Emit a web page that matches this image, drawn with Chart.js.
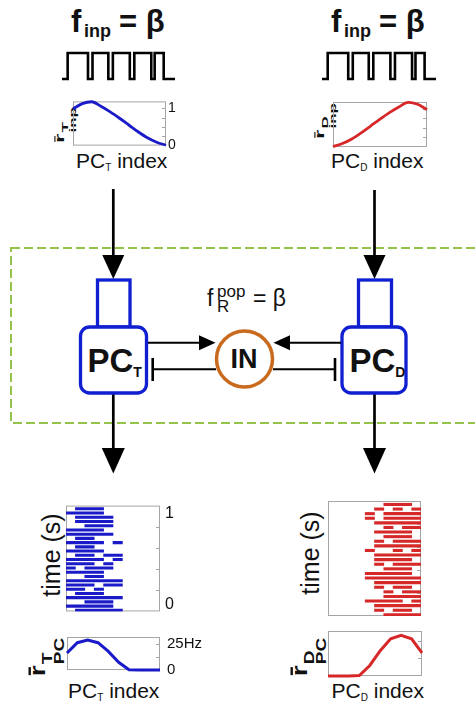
<!DOCTYPE html>
<html>
<head>
<meta charset="utf-8">
<script src="https://cdn.jsdelivr.net/npm/chart.js@4.4.1/dist/chart.umd.min.js"></script>
<style>
    html, body { margin: 0; padding: 0; background: #fff; }
    #stage { position: relative; width: 475px; height: 702px; overflow: hidden; font-family: 'Liberation Sans', Arial, sans-serif; color: #111; }
    #stage svg { position: absolute; left: 0; top: 0; }
    .panel { position: absolute; }
    .t { position: absolute; line-height: 1; white-space: nowrap; }
    .b { font-weight: bold; }
    .sub { font-size: 10px; vertical-align: -3px; }
    .rot { position: absolute; line-height: 1; white-space: nowrap; }
    .bar { position: relative; }
    .bar::after { content: ""; position: absolute; left: 0.04em; right: 0.08em; top: 0.16em; height: 0.09em; background: #111; }
    .stk { display: inline-flex; flex-direction: column; line-height: 0.82; vertical-align: -0.4em; margin-left: 1px; }
</style>
</head>
<body>
<div id="stage">
    <svg width="475" height="702">
        <rect x="11" y="248" width="490" height="175" fill="none" stroke="#94c24a" stroke-width="2" stroke-dasharray="9 4"/>
        <g stroke="#000" stroke-width="2.7">
            <line x1="113.3" y1="189" x2="113.3" y2="258"/>
            <line x1="374.5" y1="190" x2="374.5" y2="258"/>
            <line x1="113.3" y1="393" x2="113.3" y2="450"/>
            <line x1="374.5" y1="393" x2="374.5" y2="450"/>
        </g>
        <g fill="#000">
            <polygon points="102.3,255 124.3,255 113.3,279"/>
            <polygon points="363.5,255 385.5,255 374.5,279"/>
            <polygon points="101.8,448 124.8,448 113.3,473.5"/>
            <polygon points="363,448 386,448 374.5,473.5"/>
        </g>
        <g fill="none" stroke="#1020d0" stroke-width="3.3">
            <rect x="97.5" y="280" width="32.5" height="47"/>
            <rect x="358.5" y="280" width="33" height="47"/>
        </g>
        <g fill="#fff" stroke="#1020d0" stroke-width="3.3">
            <rect x="80.5" y="327" width="66" height="66" rx="9"/>
            <rect x="342" y="327" width="64" height="66" rx="9"/>
        </g>
        <g stroke="#000" stroke-width="2">
            <line x1="148" y1="342.7" x2="202" y2="342.7"/>
            <line x1="341" y1="342.7" x2="288" y2="342.7"/>
            <line x1="216" y1="369.3" x2="152.7" y2="369.3"/>
            <line x1="273" y1="369.3" x2="335" y2="369.3"/>
        </g>
        <g stroke="#000" stroke-width="2.6">
            <line x1="152.7" y1="358" x2="152.7" y2="381"/>
            <line x1="335" y1="358" x2="335" y2="381"/>
        </g>
        <g fill="#000">
            <polygon points="199,335.2 199,350.2 215.5,342.7"/>
            <polygon points="290,335.2 290,350.2 273.5,342.7"/>
        </g>
        <circle cx="244.5" cy="359" r="28" fill="#fff" stroke="#c96b1f" stroke-width="3.5"/>
    </svg>

    <div class="t b" style="left:71px; top:5.8px; font-size:31px">f</div>
    <div class="t b" style="left:84px; top:21.8px; font-size:18px">inp</div>
    <div class="t b" style="left:119px; top:5.8px; font-size:31px">= β</div>
    <div class="t b" style="left:331px; top:5.8px; font-size:31px">f</div>
    <div class="t b" style="left:344px; top:21.8px; font-size:18px">inp</div>
    <div class="t b" style="left:379px; top:5.8px; font-size:31px">= β</div>

    <div class="t" style="left:76px; top:150.2px; font-size:21px">PC<span class="sub">T</span> index</div>
    <div class="t" style="left:331px; top:150.2px; font-size:21px">PC<span class="sub">D</span> index</div>
    <div class="t" style="left:68px; top:680px; font-size:21px">PC<span class="sub">T</span> index</div>
    <div class="t" style="left:331.5px; top:680px; font-size:21px">PC<span class="sub">D</span> index</div>

    <div class="t b" style="left:87.5px; top:344.1px; font-size:33px">PC<span style="font-size:14px; vertical-align:-5px">T</span></div>
    <div class="t b" style="left:349.5px; top:344.1px; font-size:33px">PC<span style="font-size:14px; vertical-align:-5px">D</span></div>
    <div class="t b" style="left:230.5px; top:346.1px; font-size:27px">IN</div>

    <div class="t" style="left:207px; top:286.5px; font-size:23px">f</div>
    <div class="t" style="left:217px; top:283.5px; font-size:17px; line-height:0.9">pop</div>
    <div class="t" style="left:217px; top:298.8px; font-size:17px; line-height:0.9">R</div>
    <div class="t" style="left:253px; top:286.5px; font-size:23px">= β</div>

    <div class="rot" style="left:51px; top:555px; font-size:25px; transform: translate(-50%, -50%) rotate(-90deg)">time (s)</div>
    <div class="rot" style="left:310px; top:553px; font-size:25px; transform: translate(-50%, -50%) rotate(-90deg)">time (s)</div>

    <div class="rot b" style="left:65px; top:125px; font-size:24px; transform: translate(-50%, -50%) rotate(-90deg) scaleY(0.55)"><span class="bar">r</span><span class="stk" style="font-size:17px"><span>T</span><span>inp</span></span></div>
    <div class="rot b" style="left:325px; top:121px; font-size:24px; transform: translate(-50%, -50%) rotate(-90deg) scaleY(0.55)"><span class="bar">r</span><span class="stk" style="font-size:17px"><span>D</span><span>inp</span></span></div>
    <div class="rot b" style="left:46px; top:657px; font-size:28px; transform: translate(-50%, -50%) rotate(-90deg) scaleY(0.8)"><span class="bar">r</span><span class="stk" style="font-size:19px"><span>T</span><span>PC</span></span></div>
    <div class="rot b" style="left:308px; top:657px; font-size:28px; transform: translate(-50%, -50%) rotate(-90deg) scaleY(0.8)"><span class="bar">r</span><span class="stk" style="font-size:19px"><span>D</span><span>PC</span></span></div>

    <canvas id="waveT" class="panel"></canvas>
    <canvas id="waveD" class="panel"></canvas>
    <canvas id="inpT" class="panel"></canvas>
    <canvas id="inpD" class="panel"></canvas>
    <canvas id="rasT" class="panel"></canvas>
    <canvas id="rasD" class="panel"></canvas>
    <canvas id="outT" class="panel"></canvas>
    <canvas id="outD" class="panel"></canvas>
</div>

<script>
// ── data ──

// stimulus square wave (fraction of the window, on/off level)
const WAVE_TIME = [0, 0.05, 0.23, 0.27, 0.41, 0.45, 0.60, 0.64, 0.79, 0.82, 0.90, 1];
const WAVE_LEVEL = [0, 1, 0, 1, 0, 1, 0, 1, 0, 1, 0, 0];

// normalised input rate along the PC population
const INP_POS = [0, 0.1, 0.2, 0.3, 0.4, 0.5, 0.6, 0.7, 0.8, 0.9, 1];
const INP_RATE_T = [0.98, 1.12, 1.17, 1.05, 0.90, 0.73, 0.55, 0.37, 0.21, 0.09, 0.01];
const INP_RATE_D = [0.01, 0.09, 0.21, 0.37, 0.55, 0.73, 0.90, 1.05, 1.17, 1.12, 0.98];
const INP_TICKS = [0.25, 0.5, 0.75, 1];

// raster: one row per time bin, each row a list of [first, last] PC index
const SPIKE_TIMES = [0.97, 0.93, 0.89, 0.85, 0.81, 0.77, 0.73, 0.69, 0.65, 0.61, 0.57, 0.53, 0.49,
    0.45, 0.41, 0.37, 0.33, 0.29, 0.25, 0.21, 0.17, 0.13, 0.09, 0.05, 0.01];
const RASTER_T = [
    [[1, 4]], [[0, 4]], [[1, 5]], [[1, 5]], [[2, 5]], [[0, 4]], [[0, 5]], [[1, 3]],
    [[0, 4], [5, 6]], [[1, 3]], [[0, 4]], [[1, 3], [4, 6]], [[0, 4], [5, 6]], [[0, 3], [4, 5]],
    [[0, 1], [2, 5]], [[0, 4]], [[2, 4]], [[0, 6]], [[0, 3], [4, 6]], [[0, 2], [3, 4]],
    [[1, 4]], [[0, 6]], [[2, 5]], [[0, 5]], [[1, 6]],
];
const RASTER_D = [
    [[6, 9]], [[5, 6], [7, 8], [9, 10]], [[4, 5], [6, 10]], [[4, 5], [6, 10]], [[5, 10]],
    [[6, 7], [8, 10]], [[5, 9]], [[6, 9]], [[5, 6], [7, 10]], [[5, 10]], [[4, 5], [7, 8], [9, 10]],
    [[5, 10]], [[5, 9]], [[5, 6], [7, 10]], [[6, 9]], [[4, 9]], [[4, 10]], [[5, 10]],
    [[5, 6], [7, 9]], [[6, 7], [8, 10]], [[6, 10]], [[4, 8], [9, 10]], [[5, 10]], [[5, 6], [7, 9]], [[6, 10]],
];
const RASTER_TICKS = [0.2, 0.4, 0.6, 0.8];

// mean PC output rate (Hz)
const PC_INDEX = [1, 2, 3, 4, 5, 6, 7, 8, 9, 10];
const OUT_RATE_T = [16.5, 26.5, 29, 26.5, 18, 7.5, 0.3, 0, 0, 0];
const OUT_RATE_D = [0, 0, 0, 0.3, 7.5, 18, 26.5, 29, 26.5, 16.5];
const OUT_TICKS = [12.5, 25];

// ── layout ──
const PAD = 10;
const FONT = "'Liberation Sans', Arial, sans-serif";
const BLUE = "#1a1ac8";
const RED = "#d62828";
const GREY = "#a5a5a5";

const BOX = {
    waveT: { x: 62, y: 53, w: 113, h: 26 },
    waveD: { x: 322, y: 53, w: 114, h: 26 },
    inpT: { x: 73, y: 101, w: 93, h: 45 },
    inpD: { x: 333, y: 102, w: 94, h: 45 },
    rasT: { x: 66, y: 501, w: 94, h: 115 },
    rasD: { x: 328, y: 501, w: 93, h: 115 },
    outT: { x: 67, y: 631, w: 93, h: 45 },
    outD: { x: 328, y: 631, w: 94, h: 45 },
};

// grey axes box + inward ticks on the right edge
const framePlugin = {
    id: "frame",
    beforeDatasetsDraw(chart, args, opts) {
        if (!opts.show) return;
        const { ctx, chartArea: a } = chart;
        const y = chart.scales.y;
        ctx.save();
        ctx.strokeStyle = GREY;
        ctx.lineWidth = 1;
        ctx.strokeRect(a.left + 0.5, a.top + 0.5, a.width - 1, a.height - 1);
        ctx.beginPath();
        (opts.ticks || []).forEach((v) => {
            const py = Math.round(y.getPixelForValue(v)) + 0.5;
            ctx.moveTo(a.right - 1, py);
            ctx.lineTo(a.right - 4, py);
        });
        ctx.stroke();
        ctx.restore();
    },
};

function setupCanvas(id, rightW) {
    const box = BOX[id];
    const c = document.getElementById(id);
    c.width = box.w + PAD * 2 + rightW;
    c.height = box.h + PAD * 2;
    c.style.left = `${box.x - PAD}px`;
    c.style.top = `${box.y - PAD}px`;
    return c;
}

function labelAxis(min, max, values, texts, width, pad, size) {
    return {
        type: "linear",
        position: "right",
        offset: false,
        min,
        max,
        grid: { display: false, drawTicks: false },
        border: { display: false },
        afterBuildTicks: (s) => { s.ticks = values.map((v) => ({ value: v })); },
        afterFit: (s) => { s.width = width; },
        ticks: {
            padding: pad,
            color: "#111",
            font: { family: FONT, size },
            callback: (v, i) => texts[i],
        },
    };
}

function hiddenAxis() {
    return { type: "linear", position: "right", offset: false, display: false };
}

function baseOptions(scales, frame) {
    return {
        responsive: false,
        animation: false,
        devicePixelRatio: 1,
        layout: { padding: PAD },
        plugins: { legend: { display: false }, tooltip: { enabled: false }, frame },
        scales,
    };
}

function renderWave(id) {
    const canvas = setupCanvas(id, 0);
    new Chart(canvas, {
        type: "line",
        data: {
            datasets: [{
                data: WAVE_TIME.map((t, i) => ({ x: t, y: WAVE_LEVEL[i] })),
                stepped: true,
                borderColor: "#000",
                borderWidth: 2.6,
                borderJoinStyle: "miter",
                pointRadius: 0,
                clip: false,
            }],
        },
        options: baseOptions({
            x: { type: "linear", display: false, min: 0, max: 1 },
            y: { type: "linear", display: false, min: 0, max: 1 },
        }, { show: false }),
        plugins: [framePlugin],
    });
}

function renderInput(id, values, color, withLabels) {
    const canvas = setupCanvas(id, withLabels ? 16 : 0);
    new Chart(canvas, {
        type: "line",
        data: {
            datasets: [{
                data: INP_POS.map((p, i) => ({ x: p, y: values[i] })),
                borderColor: color,
                borderWidth: 2.8,
                cubicInterpolationMode: "monotone",
                pointRadius: 0,
                clip: false,
                xAxisID: "x",
                yAxisID: "y",
            }],
        },
        options: baseOptions({
            x: { type: "linear", display: false, min: 0, max: 1 },
            y: { type: "linear", display: false, min: 0, max: 1.18 },
            yl: withLabels ? labelAxis(0, 1.18, [0, 1], ["0", "1"], 16, 2, 14) : hiddenAxis(),
        }, { show: true, ticks: INP_TICKS }),
        plugins: [framePlugin],
    });
}

function renderRaster(id, rows, color, withLabels) {
    const canvas = setupCanvas(id, withLabels ? 22 : 0);
    const data = [];
    rows.forEach((segs, i) => segs.forEach((seg) => data.push({ y: SPIKE_TIMES[i], x: seg })));
    new Chart(canvas, {
        type: "bar",
        data: {
            datasets: [{
                data,
                backgroundColor: color,
                barThickness: 2.4,
                borderWidth: 0,
                xAxisID: "x",
                yAxisID: "y",
            }],
        },
        options: {
            ...baseOptions({
                x: { type: "linear", display: false, min: 0, max: 10 },
                y: { type: "linear", display: false, offset: false, min: 0, max: 1 },
                yl: withLabels ? labelAxis(-0.07, 1.09, [0, 1], ["0", "1"], 22, 5, 16) : hiddenAxis(),
            }, { show: true, ticks: RASTER_TICKS }),
            indexAxis: "y",
        },
        plugins: [framePlugin],
    });
}

function renderOutput(id, values, color, withLabels) {
    const canvas = setupCanvas(id, withLabels ? 46 : 0);
    new Chart(canvas, {
        type: "line",
        data: {
            datasets: [{
                data: PC_INDEX.map((n, i) => ({ x: n, y: values[i] })),
                borderColor: color,
                borderWidth: 3,
                tension: 0,
                pointRadius: 0,
                clip: false,
                xAxisID: "x",
                yAxisID: "y",
            }],
        },
        options: baseOptions({
            x: { type: "linear", display: false, min: 1, max: 10 },
            y: { type: "linear", display: false, min: 0, max: 32 },
            yl: withLabels ? labelAxis(0, 32, [0, 25], ["0", "25Hz"], 46, 7, 15) : hiddenAxis(),
        }, { show: true, ticks: OUT_TICKS }),
        plugins: [framePlugin],
    });
}

renderWave("waveT");
renderWave("waveD");
renderInput("inpT", INP_RATE_T, BLUE, true);
renderInput("inpD", INP_RATE_D, RED, false);
renderRaster("rasT", RASTER_T, BLUE, true);
renderRaster("rasD", RASTER_D, RED, false);
renderOutput("outT", OUT_RATE_T, BLUE, true);
renderOutput("outD", OUT_RATE_D, RED, false);
</script>
</body>
</html>
